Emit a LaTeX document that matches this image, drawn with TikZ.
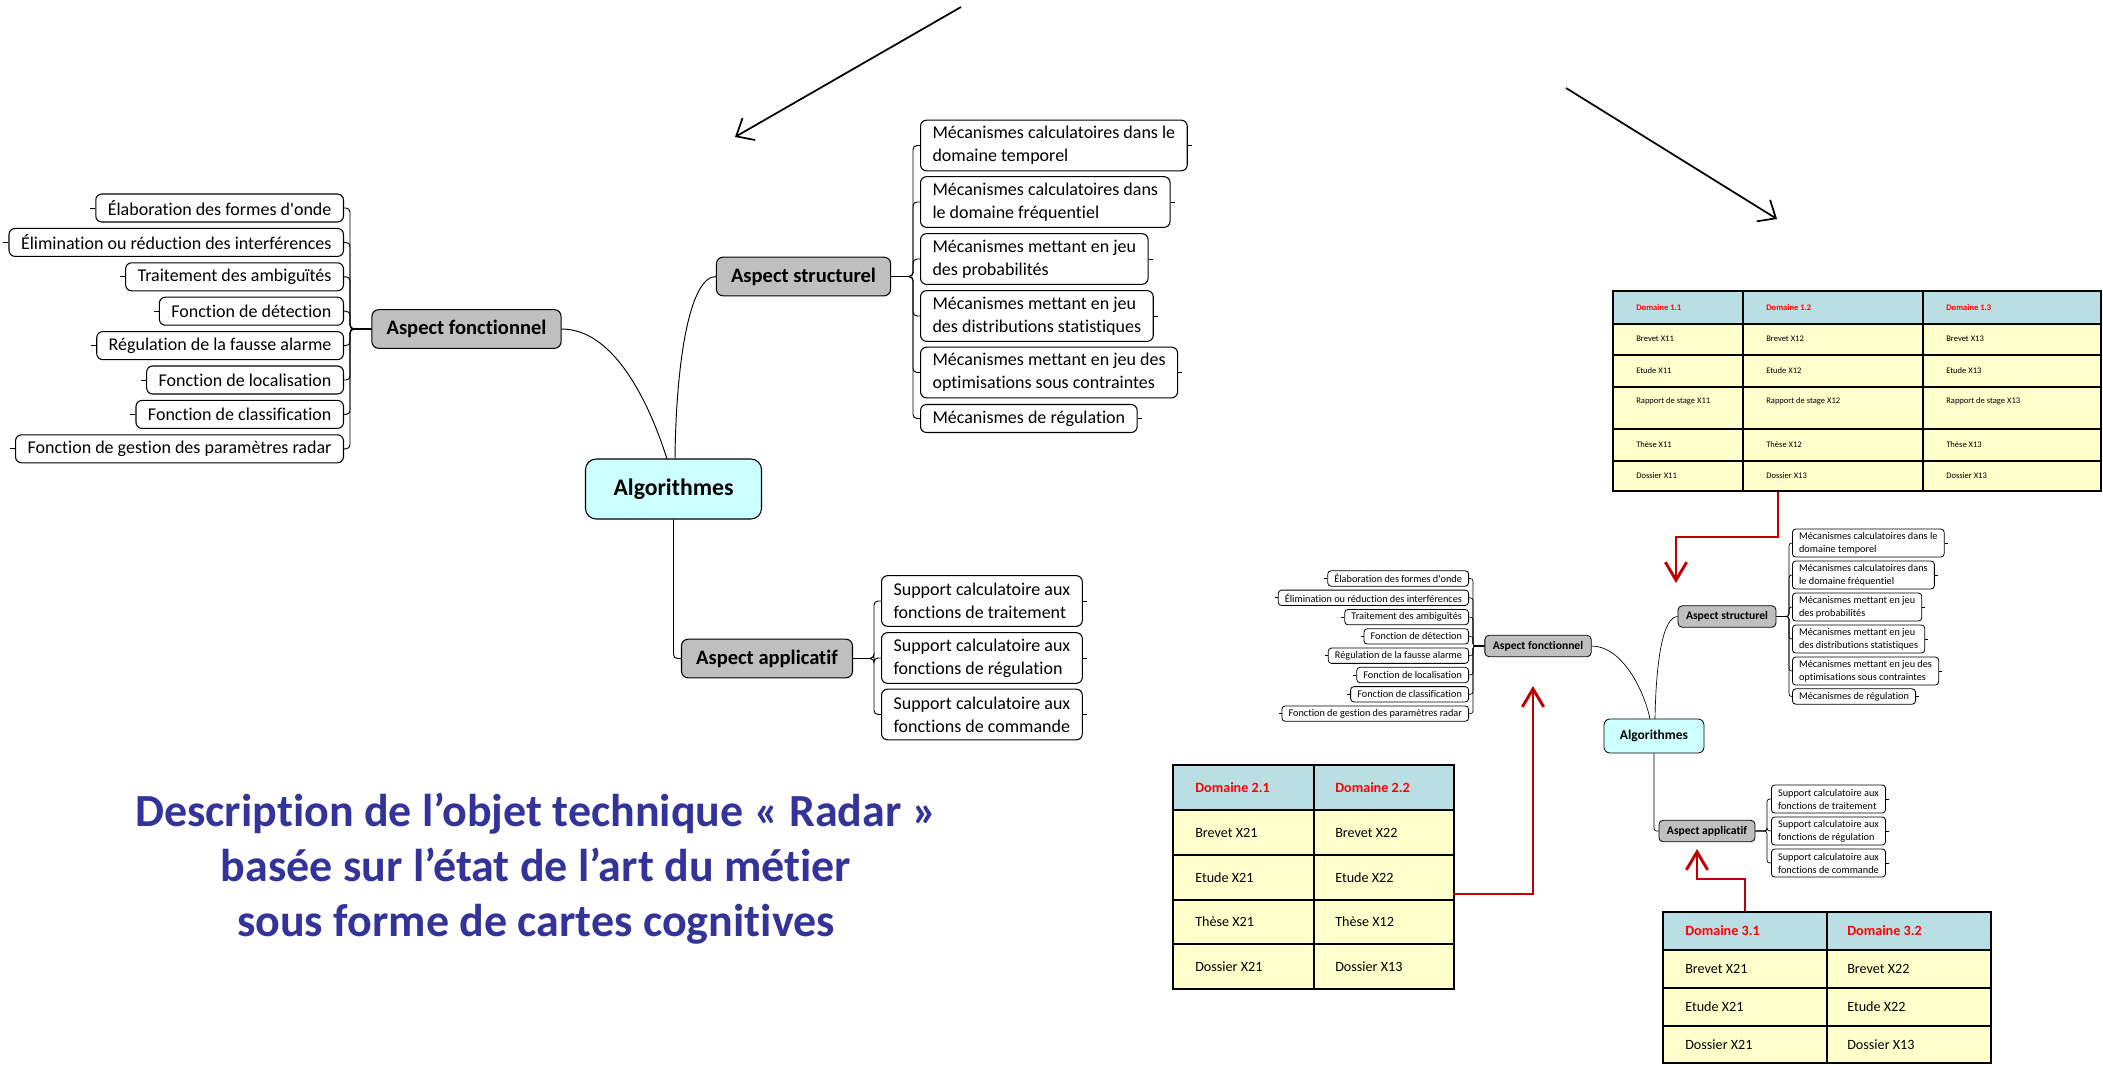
\documentclass[tikz,border=0pt]{standalone}
\usepackage{fontspec}
\newfontfamily\carlito{Carlito}[Ligatures=NoCommon]
\usetikzlibrary{arrows.meta}
\definecolor{Algo}{RGB}{204,255,255}
\definecolor{Aspect}{RGB}{191,191,191}
\definecolor{Head}{RGB}{185,223,228}
\definecolor{Body}{RGB}{255,255,204}
\definecolor{Link}{RGB}{192,0,0}
\definecolor{Title}{RGB}{51,51,153}

\begin{document}
\carlito
\begin{tikzpicture}[x=0.75pt, y=-0.75pt,
    leaf/.style={draw, fill=white, rounded corners=4.5pt, line width=0.8pt, inner xsep=9pt, inner ysep=0pt,
      minimum height=21pt, align=left, font=\fontsize{13.5}{17}\selectfont},
    leaftwo/.style={leaf, minimum height=38pt},
    aspect/.style={draw, fill=Aspect, rounded corners=5pt, line width=0.8pt, inner xsep=11pt,
      minimum height=29pt, font=\fontsize{15.4}{18}\selectfont\bfseries},
    algo/.style={draw, fill=Algo, rounded corners=8pt, line width=0.8pt, minimum width=132pt,
      minimum height=45pt, font=\fontsize{17.8}{21}\selectfont\bfseries},
    sleaf/.style={draw, fill=white, rounded corners=2.5pt, line width=0.6pt, inner xsep=5pt, inner ysep=0pt,
      minimum height=11.5pt, align=left, font=\fontsize{7.7}{9.75}\selectfont},
    sleaftwo/.style={sleaf, minimum height=21pt},
    saspect/.style={draw, fill=Aspect, rounded corners=3pt, line width=0.6pt, inner xsep=6pt,
      minimum height=16pt, font=\fontsize{8.7}{10}\selectfont\bfseries},
    salgo/.style={draw, fill=Algo, rounded corners=4.5pt, line width=0.6pt, minimum width=75pt,
      minimum height=25.5pt, font=\fontsize{10.1}{12}\selectfont\bfseries},
    branch/.style={line width=0.7pt, rounded corners=3pt},
    sbranch/.style={line width=0.5pt, rounded corners=2pt},
    grid/.style={line width=2pt, line cap=rect},
    tinycell/.style={anchor=west, inner sep=0pt, font=\fontsize{6.4}{7}\selectfont},
    tinyhead/.style={tinycell, text=red, font=\fontsize{6.4}{7}\selectfont\bfseries},
    cell/.style={anchor=west, inner sep=0pt, font=\fontsize{10.6}{12}\selectfont},
    headcell/.style={cell, text=red, font=\fontsize{10.6}{12}\selectfont\bfseries},
    redlink/.style={Link, line width=2.2pt, -{Straight Barb[length=13.5pt,width=16pt]}},
    bigarrow/.style={line width=1.3pt, -{Straight Barb[length=11pt,width=19pt]}},
    titre/.style={align=center, text=Title, font=\fontsize{34.5}{41.25}\selectfont\bfseries}
  ]
    %% Background
    \useasboundingbox (0,0) rectangle (2103,1065);

    %% Top arrows
    \draw[bigarrow] (961,7) -- (735,137);
    \draw[bigarrow] (1566,88) -- (1777,219);

    %% Large map
    \node[algo] (algo) at (673.5,489) {Algorithmes};
    \node[aspect] (fonc) at (466.5,329) {Aspect fonctionnel};
    \node[aspect] (struct) at (803.5,276.5) {Aspect structurel};
    \node[aspect] (appl) at (767,658.5) {Aspect applicatif};

    \draw[branch] (fonc.east) .. controls (615,329) and (650,405) .. (667,459);
    \draw[branch] (675,459) .. controls (676,360) and (690,276.5) .. (struct.west);
    \draw[branch] (algo.south) |- (appl.west);

    \foreach \txt [count=\i] in {Élaboration des formes d'onde, Élimination ou réduction des interférences,
        Traitement des ambiguïtés, Fonction de détection, Régulation de la fausse alarme,
        Fonction de localisation, Fonction de classification, Fonction de gestion des paramètres radar}{
      \node[leaf, anchor=east] (fb\i) at (344,{208+34.4*(\i-1)}) {\txt};
      \draw[branch] (fonc.west) -- (350,329) |- (fb\i.east);
      \draw[line width=0.7pt] (fb\i.west) -- ++(-5,0);
    }

    \foreach \y/\txt [count=\i] in {145.5/{Mécanismes calculatoires dans le\\domaine temporel},
        202/{Mécanismes calculatoires dans\\le domaine fréquentiel},
        259/{Mécanismes mettant en jeu\\des probabilités},
        316/{Mécanismes mettant en jeu\\des distributions statistiques},
        372.5/{Mécanismes mettant en jeu des\\optimisations sous contraintes}}{
      \node[leaftwo, anchor=west] (sb\i) at (920,\y) {\txt};
    }
    \node[leaf, anchor=west] (sb6) at (920,418.5) {Mécanismes de régulation};
    \foreach \i in {1,...,6}{
      \draw[branch] (struct.east) -- (913,276.5) |- (sb\i.west);
      \draw[line width=0.7pt] (sb\i.east) -- ++(4,0);
    }

    \foreach \y/\txt [count=\i] in {601/{Support calculatoire aux\\fonctions de traitement},
        658/{Support calculatoire aux\\fonctions de régulation},
        714.5/{Support calculatoire aux\\fonctions de commande}}{
      \node[leaftwo, anchor=west] (ab\i) at (881,\y) {\txt};
      \draw[branch] (appl.east) -- (874,658.5) |- (ab\i.west);
      \draw[line width=0.7pt] (ab\i.east) -- ++(4,0);
    }

    %% Title
    \node[titre] (titre) at (536,869) {Description de l’objet technique « Radar »\\
      basée sur l’état de l’art du métier\\sous forme de cartes cognitives};

    %% Small map
    \node[salgo] (salgo) at (1654,736) {Algorithmes};
    \node[saspect] (sfonc) at (1538,646) {Aspect fonctionnel};
    \node[saspect] (sstruct) at (1727,616.5) {Aspect structurel};
    \node[saspect] (sappl) at (1707,831) {Aspect applicatif};

    \draw[sbranch] (sfonc.east) .. controls (1622,646) and (1644,690) .. (1650,719);
    \draw[sbranch] (1655,719) .. controls (1656,660) and (1663,616.5) .. (sstruct.west);
    \draw[sbranch] (salgo.south) |- (sappl.west);

    \foreach \txt [count=\i] in {Élaboration des formes d'onde, Élimination ou réduction des interférences,
        Traitement des ambiguïtés, Fonction de détection, Régulation de la fausse alarme,
        Fonction de localisation, Fonction de classification, Fonction de gestion des paramètres radar}{
      \node[sleaf, anchor=east] (sfb\i) at (1469,{578.5+19.3*(\i-1)}) {\txt};
      \draw[sbranch] (sfonc.west) -- (1473,646) |- (sfb\i.east);
      \draw[line width=0.5pt] (sfb\i.west) -- ++(-3,0);
    }

    \foreach \y/\txt [count=\i] in {543/{Mécanismes calculatoires dans le\\domaine temporel},
        575/{Mécanismes calculatoires dans\\le domaine fréquentiel},
        607/{Mécanismes mettant en jeu\\des probabilités},
        639/{Mécanismes mettant en jeu\\des distributions statistiques},
        671/{Mécanismes mettant en jeu des\\optimisations sous contraintes}}{
      \node[sleaftwo, anchor=west] (ssb\i) at (1792,\y) {\txt};
    }
    \node[sleaf, anchor=west] (ssb6) at (1792,696.5) {Mécanismes de régulation};
    \foreach \i in {1,...,6}{
      \draw[sbranch] (sstruct.east) -- (1789,616.5) |- (ssb\i.west);
      \draw[line width=0.5pt] (ssb\i.east) -- ++(3,0);
    }

    \foreach \y/\txt [count=\i] in {799/{Support calculatoire aux\\fonctions de traitement},
        831/{Support calculatoire aux\\fonctions de régulation},
        863/{Support calculatoire aux\\fonctions de commande}}{
      \node[sleaftwo, anchor=west] (sab\i) at (1771,\y) {\txt};
      \draw[sbranch] (sappl.east) -- (1767,831) |- (sab\i.west);
      \draw[line width=0.5pt] (sab\i.east) -- ++(3,0);
    }

    %% Table 1
    \fill[Head] (1613,291) rectangle (2101,324);
    \fill[Body] (1613,324) rectangle (2101,491);
    \foreach \y in {324,355,387,429,461}
      \draw[grid] (1613,\y) -- (2101,\y);
    \foreach \x in {1743,1923}
      \draw[grid] (\x,291) -- (\x,491);
    \draw[grid] (1613,291) rectangle (2101,491);
    \foreach \x/\c in {1636/1,1766/2,1946/3}{
      \node[tinyhead] (ta\c) at (\x,307.5) {Domaine 1.\c};
      \node[tinycell] (tb\c) at (\x,339) {Brevet X1\c};
      \node[tinycell] (tc\c) at (\x,371) {Etude X1\c};
      \node[tinycell] (td\c) at (\x,401) {Rapport de stage X1\c};
      \node[tinycell] (te\c) at (\x,445) {Thèse X1\c};
    }
    \node[tinycell] (tf1) at (1636,476) {Dossier X11};
    \node[tinycell] (tf2) at (1766,476) {Dossier X13};
    \node[tinycell] (tf3) at (1946,476) {Dossier X13};

    %% Table 2
    \fill[Head] (1173,765) rectangle (1454,810);
    \fill[Body] (1173,810) rectangle (1454,989);
    \foreach \y in {810,855,900,944}
      \draw[grid] (1173,\y) -- (1454,\y);
    \draw[grid] (1314,765) -- (1314,989);
    \draw[grid] (1173,765) rectangle (1454,989);
    \node[headcell] (ua1) at (1195,787.5) {Domaine 2.1};
    \node[headcell] (ua2) at (1335,787.5) {Domaine 2.2};
    \node[cell] (ub1) at (1195,832.5) {Brevet X21};
    \node[cell] (ub2) at (1335,832.5) {Brevet X22};
    \node[cell] (uc1) at (1195,877.5) {Etude X21};
    \node[cell] (uc2) at (1335,877.5) {Etude X22};
    \node[cell] (ud1) at (1195,922) {Thèse X21};
    \node[cell] (ud2) at (1335,922) {Thèse X12};
    \node[cell] (ue1) at (1195,966.5) {Dossier X21};
    \node[cell] (ue2) at (1335,966.5) {Dossier X13};

    %% Table 3
    \fill[Head] (1663,912) rectangle (1991,950);
    \fill[Body] (1663,950) rectangle (1991,1063);
    \foreach \y in {950,988,1026}
      \draw[grid] (1663,\y) -- (1991,\y);
    \draw[grid] (1827,912) -- (1827,1063);
    \draw[grid] (1663,912) rectangle (1991,1063);
    \node[headcell] (va1) at (1685,931) {Domaine 3.1};
    \node[headcell] (va2) at (1847,931) {Domaine 3.2};
    \node[cell] (vb1) at (1685,969) {Brevet X21};
    \node[cell] (vb2) at (1847,969) {Brevet X22};
    \node[cell] (vc1) at (1685,1007) {Etude X21};
    \node[cell] (vc2) at (1847,1007) {Etude X22};
    \node[cell] (vd1) at (1685,1044.5) {Dossier X21};
    \node[cell] (vd2) at (1847,1044.5) {Dossier X13};

    %% Links from tables
    \coordinate (t1out) at (1778,492);
    \coordinate (t2out) at (1453,894);
    \coordinate (t3out) at (1745,911);
    \coordinate (sstructin) at (1676,583);
    \coordinate (sfoncin) at (1533,686);
    \coordinate (sapplin) at (1697,849);
    \draw[redlink] (t1out) -- (1778,537) -| (sstructin);
    \draw[redlink] (t2out) -| (sfoncin);
    \draw[redlink] (t3out) -- (1745,879) -| (sapplin);
\end{tikzpicture}
\end{document}
